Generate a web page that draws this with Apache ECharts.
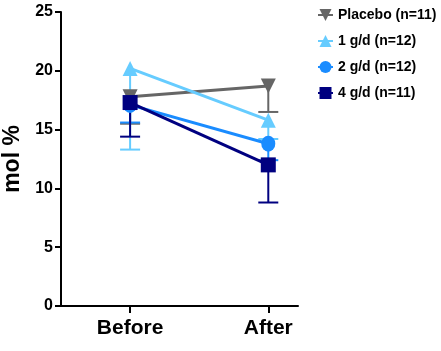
<!DOCTYPE html>
<html>
<head>
<meta charset="utf-8">
<script src="https://cdn.jsdelivr.net/npm/echarts@6/dist/echarts.min.js"></script>
<style>
    html, body { margin: 0; padding: 0; background: #fff; }
    #chart { width: 441px; height: 351px; }
</style>
</head>
<body>
<div id="chart"></div>
<script>
    // time points (x positions on the value axis) and their labels
    let timePoints = [1, 3];
    let timeLabels = ['Before', 'After'];

    let groupNames = ['Placebo (n=11)', '1 g/d (n=12)', '2 g/d (n=12)', '4 g/d (n=11)'];

    // means per group: [Before, After]
    let placeboMean = [17.8, 18.7];
    let g1Mean = [20.2, 15.8];
    let g2Mean = [17.1, 13.8];
    let g4Mean = [17.3, 12.0];

    // lower end of the error bars: [Before, After]
    let placeboLow = [15.5, 16.5];
    let g1Low = [13.3, 14.2];
    let g2Low = [15.6, 12.4];
    let g4Low = [14.4, 8.8];

    let yTicks = [0, 5, 10, 15, 20, 25];

    let colors = ['#666666', '#66ccff', '#1a8cff', '#000080'];
    let symbols = ['triangle', 'triangle', 'circle', 'rect'];
    let rotations = [180, 0, 0, 0];
    let means = [placeboMean, g1Mean, g2Mean, g4Mean];
    let lows = [placeboLow, g1Low, g2Low, g4Low];

    let font = 'Liberation Sans, Arial, sans-serif';
    let myChart = echarts.init(document.getElementById('chart'));

    let series = [];
    // error bars first, so markers sit on top
    means.forEach((m, i) => {
        series.push({
            type: 'custom',
            z: 2 + i,
            silent: true,
            data: timePoints.map((x, j) => [x, lows[i][j], m[j]]),
            renderItem: function (params, api) {
                let top = api.coord([api.value(0), api.value(2)]);
                let bot = api.coord([api.value(0), api.value(1)]);
                let half = 10;
                return {
                    type: 'group',
                    children: [
                        {type: 'line', shape: {x1: top[0], y1: top[1], x2: bot[0], y2: bot[1]},
                            style: {stroke: colors[i], lineWidth: 2}},
                        {type: 'line', shape: {x1: bot[0] - half, y1: bot[1], x2: bot[0] + half, y2: bot[1]},
                            style: {stroke: colors[i], lineWidth: 2}}
                    ]
                };
            }
        });
    });
    means.forEach((m, i) => {
        series.push({
            name: groupNames[i],
            type: 'line',
            z: 10 + i,
            data: timePoints.map((x, j) => [x, m[j]]),
            symbol: symbols[i],
            symbolRotate: rotations[i],
            symbolSize: i === 2 ? [14, 16] : 15,
            showAllSymbol: true,
            lineStyle: {color: colors[i], width: 3},
            itemStyle: {color: colors[i]}
        });
    });

    let option = {
        animation: false,
        backgroundColor: '#fff',
        grid: {left: 61, top: 12, right: 143, bottom: 45, outerBoundsMode: 'none'},
        legend: {
            orient: 'vertical',
            left: 312,
            top: 3,
            itemWidth: 15,
            itemHeight: 15,
            itemGap: 12,
            data: groupNames,
            textStyle: {fontFamily: font, fontWeight: 'bold', fontSize: 14, color: '#000'}
        },
        xAxis: {
            type: 'value',
            min: 0,
            max: 3.43,
            splitLine: {show: false},
            axisLine: {lineStyle: {color: '#000', width: 2}},
            axisTick: {customValues: timePoints, length: 7, lineStyle: {color: '#000', width: 2}},
            axisLabel: {
                customValues: timePoints,
                formatter: (v) => timeLabels[timePoints.indexOf(v)] || '',
                fontFamily: font, fontWeight: 'bold', fontSize: 21, color: '#000', margin: 12
            }
        },
        yAxis: {
            type: 'value',
            min: 0,
            max: 25,
            interval: 5,
            name: 'mol %',
            nameLocation: 'middle',
            nameGap: 34,
            nameTextStyle: {fontFamily: font, fontWeight: 'bold', fontSize: 23, color: '#000'},
            splitLine: {show: false},
            axisLine: {show: true, lineStyle: {color: '#000', width: 2}},
            axisTick: {show: true, length: 6, lineStyle: {color: '#000', width: 2}},
            axisLabel: {
                formatter: (v) => yTicks.indexOf(v) >= 0 ? String(v) : '',
                fontFamily: font, fontWeight: 'bold', fontSize: 16, color: '#000', margin: 8
            }
        },
        series: series
    };

    myChart.setOption(option);
</script>
</body>
</html>
